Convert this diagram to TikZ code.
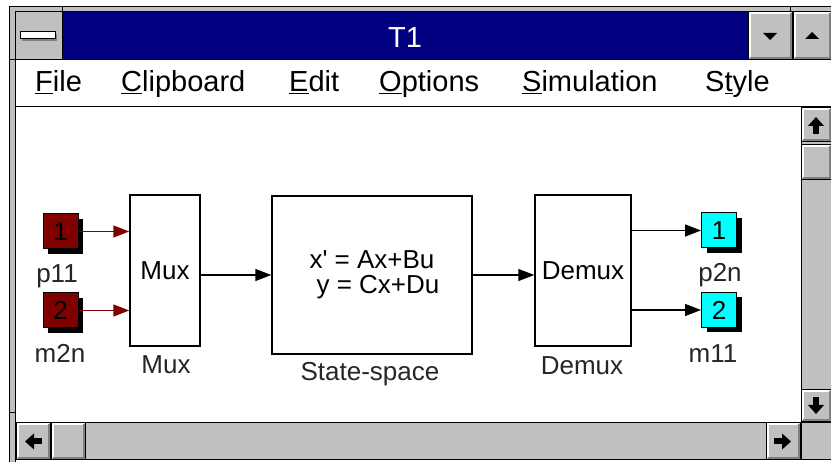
\documentclass[tikz,border=0pt]{standalone}
\usepackage{fontspec}
\setmainfont{Liberation Sans}
\usetikzlibrary{arrows.meta,shadows}

\definecolor{winnavy}{HTML}{000080}
\definecolor{wingray}{HTML}{C0C0C0}
\definecolor{windark}{HTML}{808080}
\definecolor{portred}{HTML}{800000}
\definecolor{portcyan}{HTML}{00FFFF}

\tikzset{
  block/.style={draw=black, line width=1.5pt, fill=white, inner sep=0pt,
    font=\fontsize{26}{25}\selectfont},
  inport/.style={draw=black, line width=1pt, fill=portred, inner sep=0pt,
    minimum width=35pt, minimum height=35pt, font=\fontsize{26}{26}\selectfont,
    drop shadow={shadow xshift=5pt, shadow yshift=-5pt, fill=black, opacity=1}},
  outport/.style={inport, fill=portcyan},
  caption/.style={anchor=base, inner sep=0pt, text=black!85,
    font=\fontsize{26}{26}\selectfont},
  menuitem/.style={anchor=base west, inner sep=0pt, font=\fontsize{29}{29}\selectfont},
  wire/.style={line width=1.5pt, -{Triangle[length=16pt,width=12pt]}},
  redwire/.style={wire, portred},
  frameline/.style={black, line width=1pt},
}

\begin{document}
\begin{tikzpicture}[x=1pt, y=-1pt]
  \useasboundingbox[fill=white] (0,0) rectangle (831,462);

  % window frame
  \fill[wingray] (9,7) rectangle (831,12);
  \fill[wingray] (9,7) rectangle (15,462);
  \draw[frameline] (9,462) -- (9,7) -- (831,7);
  \draw[frameline] (15,462) -- (15,12) -- (831,12);
  \draw[frameline] (62,7) -- (62,12);
  \draw[frameline] (790,7) -- (790,12);
  \draw[frameline] (9,60) -- (15,60);
  \draw[frameline] (9,413) -- (15,413);

  % title bar
  \fill[winnavy] (62,12) rectangle (748,60);
  \draw[frameline, fill=wingray] (15,12) rectangle (62,60);
  \fill[windark] (22,34) rectangle (57,41);
  \draw[frameline, fill=white] (20,32) rectangle (55,39);
  \node[anchor=base, inner sep=0pt, text=white, font=\fontsize{29}{29}\selectfont] (title) at (405,48) {T1};

  % menu bar
  \draw[frameline] (15,60) -- (831,60);
  \draw[frameline] (15,107) -- (831,107);
  \foreach \mx/\mtext [count=\i] in {35/{\underline{F}ile}, 121/{\underline{C}lipboard},
      289/{\underline{E}dit}, 379/{\underline{O}ptions}, 522/{\underline{S}imulation},
      705/{S\underline{t}yle}}
    \node[menuitem] (menu\i) at (\mx,92) {\mtext};

  % scroll bars
  \draw[frameline, fill=wingray] (801,107) rectangle (831,423);
  \draw[frameline, fill=wingray] (15,423) rectangle (801,460);
  \draw[frameline, fill=wingray] (801,423) rectangle (831,460);

  % buttons
  \foreach \xa/\ya/\xb/\yb in {748/12/792/60, 793/12/831/60, 801/108/831/142,
      801/145/831/180, 801/390/831/422, 16/423/50/460, 51/423/85/460, 766/423/800/460}{
    \fill[wingray] (\xa,\ya) rectangle (\xb,\yb);
    \draw[white, line width=2pt] (\xa+1.5,\yb-1.5) -- (\xa+1.5,\ya+1.5) -- (\xb-1.5,\ya+1.5);
    \draw[windark, line width=2pt] (\xa+1.5,\yb-1.5) -- (\xb-1.5,\yb-1.5) -- (\xb-1.5,\ya+1.5);
    \draw[frameline] (\xa,\ya) rectangle (\xb,\yb);
  }
  \fill (763,33) -- (777,33) -- (770,40) -- cycle;
  \fill (805,39) -- (819,39) -- (812,32) -- cycle;
  \foreach \cx/\cy/\ang in {816/125/0, 816/406/180, 33/441.5/90, 783/441.5/-90}{
    \begin{scope}[shift={(\cx,\cy)}, rotate=\ang]
      \fill (-8,1) -- (0,-8) -- (8,1) -- cycle;
      \fill (-3,0) rectangle (3,9);
    \end{scope}
  }

  % blocks
  \node[inport] (in1) at (60.5,231.5) {1};
  \node[inport] (in2) at (60.5,310.5) {2};
  \node[block, minimum width=70pt, minimum height=151pt] (mux) at (165,270.5) {Mux};
  \node[block, minimum width=200pt, minimum height=158pt, align=center] (ss) at (372,275)
    {x\textquotesingle{} = Ax+Bu\\\hspace*{12pt}y = Cx+Du};
  \node[block, minimum width=96pt, minimum height=151pt] (demux) at (583,270.5) {Demux};
  \node[outport] (out1) at (719,230.5) {1};
  \node[outport] (out2) at (719,310) {2};

  % block names
  \node[caption] (p11) at (57,283) {p11};
  \node[caption] (m2n) at (60,363) {m2n};
  \node[caption] (muxname) at (166,374) {Mux};
  \node[caption] (ssname) at (370,381) {State-space};
  \node[caption] (demuxname) at (582,375) {Demux};
  \node[caption] (p2n) at (720,282) {p2n};
  \node[caption] (m11) at (713,363) {m11};

  % signal lines
  \draw[redwire] (in1.east) -- (in1.east -| mux.west);
  \draw[redwire] (in2.east) -- (in2.east -| mux.west);
  \draw[wire] (ss.west -| mux.east) -- (ss.west);
  \draw[wire] (ss.east) -- (ss.east -| demux.west);
  \draw[wire] (out1.west -| demux.east) -- (out1.west);
  \draw[wire] (out2.west -| demux.east) -- (out2.west);
\end{tikzpicture}
\end{document}
